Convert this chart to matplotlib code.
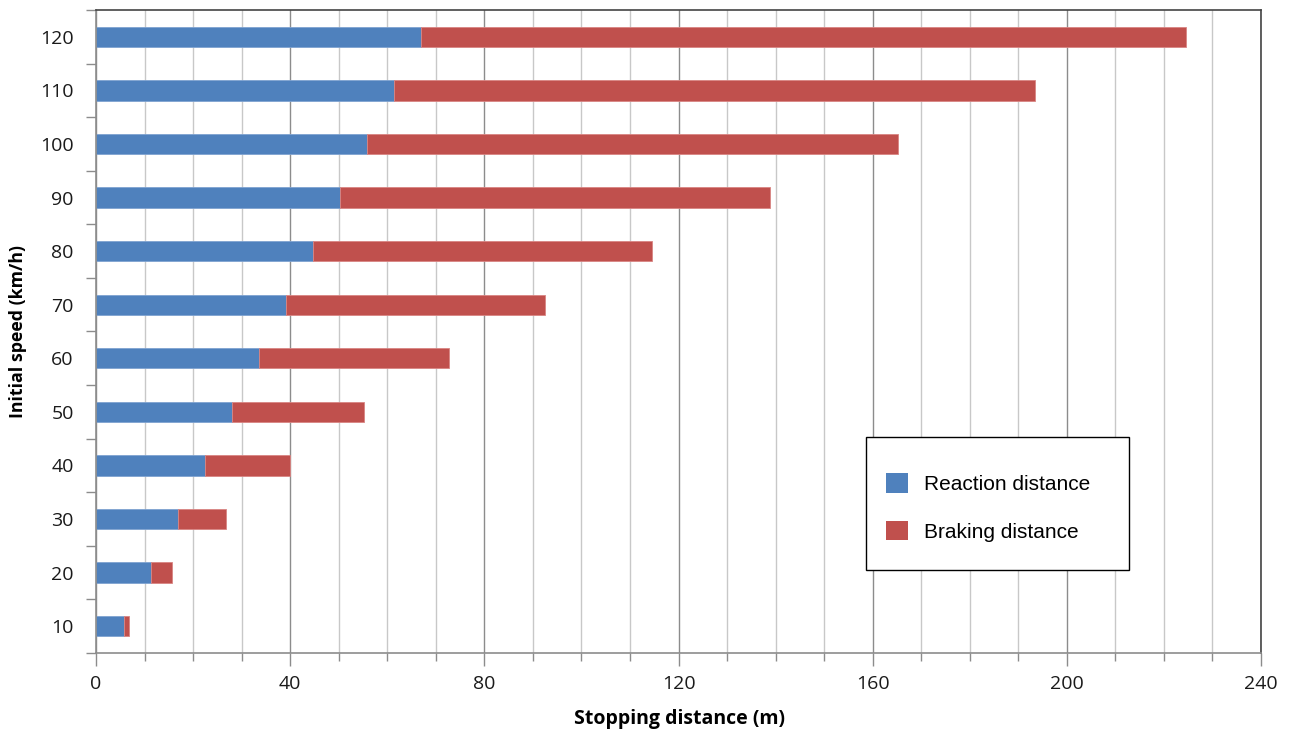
import numpy as np
import matplotlib
matplotlib.use('Agg')
import matplotlib.pyplot as plt
from matplotlib.ticker import MultipleLocator, FixedLocator
from matplotlib.patches import Rectangle

# speeds in km/h and distances in m
speeds = [10, 20, 30, 40, 50, 60, 70, 80, 90, 100, 110, 120]
reaction = [5.8, 11.3, 16.9, 22.5, 28.0, 33.6, 39.1, 44.7, 50.3, 55.8, 61.4, 66.9]
braking = [1.0, 4.4, 9.9, 17.5, 27.2, 39.1, 53.4, 69.8, 88.6, 109.4, 132.0, 157.6]

blue = '#4F81BD'
red = '#C0504D'
tick_font = 'Open Sans'
W, H = 1293, 733

fig = plt.figure(figsize=(W/100, H/100), dpi=100)
ax = fig.add_axes([96/W, 1-653/H, (1261-96)/W, (653-10)/H])

y = np.arange(len(speeds))
ax.barh(y, reaction, height=0.38, color=blue, edgecolor='#7fa3d1', linewidth=0.6,
        label='Reaction distance', zorder=3)
ax.barh(y, braking, left=reaction, height=0.38, color=red, edgecolor='#d98583',
        linewidth=0.6, label='Braking distance', zorder=3)

ax.set_xlim(0, 240)
ax.set_ylim(-0.5, len(speeds) - 0.5)

# x axis ticks and grid
ax.xaxis.set_major_locator(MultipleLocator(40))
ax.xaxis.set_minor_locator(MultipleLocator(10))
ax.grid(which='minor', axis='x', color='#c8c8c8', linewidth=1.0, zorder=0)
ax.grid(which='major', axis='x', color='#8c8c8c', linewidth=1.0, zorder=0)
ax.tick_params(axis='x', which='major', length=9, width=1, color='#8c8c8c',
               labelsize=14, pad=7)
ax.tick_params(axis='x', which='minor', length=6, width=1, color='#8c8c8c')

# y axis: labels at categories, ticks on boundaries
ax.set_yticks(y)
ax.set_yticklabels([str(s) for s in speeds])
ax.yaxis.set_minor_locator(FixedLocator(np.arange(-0.5, len(speeds), 1.0)))
ax.tick_params(axis='y', which='major', length=0, labelsize=14, pad=16)
ax.tick_params(axis='y', which='minor', length=7, width=1, color='#8c8c8c')

for lab in ax.get_xticklabels() + ax.get_yticklabels():
    lab.set_fontfamily(tick_font)
    lab.set_color('#1a1a1a')

ax.spines['left'].set_color('#8c8c8c')
ax.spines['bottom'].set_color('#8c8c8c')
ax.spines['top'].set_color('#444444')
ax.spines['right'].set_color('#444444')
for s in ax.spines.values():
    s.set_linewidth(1.2)
    s.set_zorder(4)

fig.text(18/W, 1-332/H, 'Initial speed (km/h)', rotation=90, ha='center',
         va='center', fontsize=12.8, fontweight='bold', fontfamily=tick_font)
fig.text(680/W, 1-719/H, 'Stopping distance (m)', ha='center', va='center',
         fontsize=14, fontweight='bold', fontfamily=tick_font)

# legend box drawn separately, entries placed inside it
fig.patches.append(Rectangle((866/W, 1-570/H), (1129-866)/W, (570-437)/H,
                             transform=fig.transFigure, facecolor='white',
                             edgecolor='black', linewidth=1.0, zorder=5))
handles, labels = ax.get_legend_handles_labels()
leg = fig.legend(handles, labels, loc='center left',
                 bbox_to_anchor=(886/W, 1-507.5/H),
                 bbox_transform=fig.transFigure, frameon=False,
                 prop={'family': 'Liberation Sans', 'size': 15},
                 handlelength=1.05, handleheight=1.05, handletextpad=0.77,
                 labelspacing=1.3, borderpad=0, borderaxespad=0)
leg.set_zorder(6)
for h in leg.legend_handles:
    h.set_edgecolor('none')

fig.savefig('out.png', dpi=100)
